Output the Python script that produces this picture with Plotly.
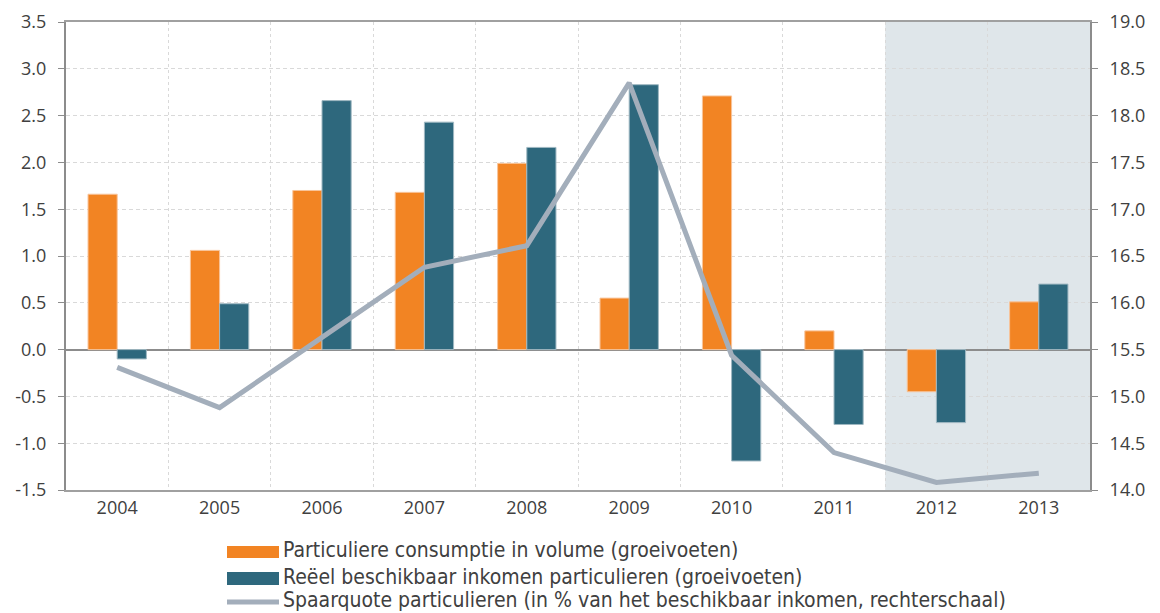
import plotly.graph_objects as go

years = ["2004", "2005", "2006", "2007", "2008", "2009", "2010", "2011", "2012", "2013"]
consumptie = [1.66, 1.06, 1.70, 1.68, 1.99, 0.55, 2.71, 0.20, -0.45, 0.51]
inkomen = [-0.10, 0.49, 2.66, 2.43, 2.16, 2.83, -1.19, -0.80, -0.78, 0.70]
spaarquote = [15.31, 14.88, 15.63, 16.38, 16.61, 18.35, 15.44, 14.40, 14.08, 14.18]
forecast_years = ["2012", "2013"]

left_ticks = [-1.5, -1.0, -0.5, 0.0, 0.5, 1.0, 1.5, 2.0, 2.5, 3.0, 3.5]
right_ticks = [14.0, 14.5, 15.0, 15.5, 16.0, 16.5, 17.0, 17.5, 18.0, 18.5, 19.0]

names = [
    "Particuliere consumptie in volume (groeivoeten)",
    "Reëel beschikbaar inkomen particulieren (groeivoeten)",
    "Spaarquote particulieren (in % van het beschikbaar inkomen, rechterschaal)",
]

ORANGE = "#F28423"
TEAL = "#2E687D"
GREY = "#A3AEBB"
TXT = "#404040"
FONT = "Open Sans"
LEGFONT = "DejaVu Sans Condensed"

W, H = 1160, 613
ML, MR, MT, MB = 66, 70, 22, 123
PW, PH = W - ML - MR, H - MT - MB


def px(x):
    return (x - ML) / PW


def py(y):
    return (H - MB - y) / PH


fig = go.Figure()
fig.add_trace(go.Bar(x=years, y=consumptie, marker=dict(color=ORANGE, line=dict(color="#F8C49A", width=1)),
                     showlegend=False, name=names[0]))
fig.add_trace(go.Bar(x=years, y=inkomen, marker=dict(color=TEAL, line=dict(color="#9FB8C2", width=1)),
                     showlegend=False, name=names[1]))
fig.add_trace(go.Scatter(x=years, y=spaarquote, yaxis="y2", mode="lines",
                         line=dict(color=GREY, width=5), showlegend=False, name=names[2]))

i0 = years.index(forecast_years[0])
i1 = years.index(forecast_years[-1])
fig.add_shape(type="rect", xref="x", yref="paper", x0=i0 - 0.5, x1=i1 + 0.5, y0=0, y1=1,
              fillcolor="#DFE6EA", line_width=0, layer="below")

# manual legend
rows = [550, 576.5, 600]
fig.add_shape(type="rect", xref="paper", yref="paper", x0=px(227), x1=px(279), y0=py(558), y1=py(546),
              fillcolor=ORANGE, line_width=0)
fig.add_shape(type="rect", xref="paper", yref="paper", x0=px(227), x1=px(279), y0=py(585), y1=py(572),
              fillcolor=TEAL, line_width=0)
fig.add_shape(type="line", xref="paper", yref="paper", x0=px(227), x1=px(279), y0=py(602), y1=py(602),
              line=dict(color=GREY, width=5))
for nm, r in zip(names, rows):
    fig.add_annotation(xref="paper", yref="paper", x=px(282), y=py(r), xanchor="left", yanchor="middle",
                       text=nm, showarrow=False, borderpad=0,
                       font=dict(family=LEGFONT, size=21, color=TXT))

fig.update_layout(
    width=W, height=H,
    margin=dict(l=ML, r=MR, t=MT, b=MB, autoexpand=False),
    paper_bgcolor="white", plot_bgcolor="white",
    barmode="group", bargap=0.43, bargroupgap=0,
    showlegend=False,
    font=dict(family=FONT, size=18, color=TXT),
    xaxis=dict(type="category", tickson="boundaries", showgrid=True, gridcolor="#D9D9D9",
               griddash="3px,3px", gridwidth=1, ticks="", showline=True, linecolor="#A0A0A0",
               linewidth=2, mirror=True, tickfont=dict(size=18, color=TXT), range=[-0.5, 9.5]),
    yaxis=dict(range=[-1.5, 3.5], tickvals=left_ticks, ticktext=[f"{v:.1f}" for v in left_ticks],
               showgrid=True, gridcolor="#D9D9D9", griddash="4px,3px", gridwidth=1,
               zeroline=True, zerolinecolor="#8C8C8C", zerolinewidth=2,
               showline=True, linecolor="#8C8C8C", linewidth=2, ticks="outside", ticklen=6,
               tickcolor="#8C8C8C", tickfont=dict(size=18, color=TXT), ticklabelstandoff=8),
    yaxis2=dict(range=[14.0, 19.0], tickvals=right_ticks, ticktext=[f"{v:.1f}" for v in right_ticks],
                overlaying="y", side="right", showgrid=False, zeroline=False,
                showline=True, linecolor="#8C8C8C", linewidth=2, ticks="outside", ticklen=6,
                tickcolor="#8C8C8C", tickfont=dict(size=18, color=TXT), ticklabelstandoff=8),
)

fig.write_html("out.html")
